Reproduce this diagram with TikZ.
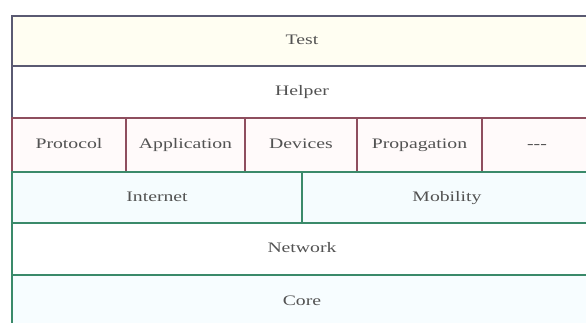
\documentclass[tikz,border=0pt]{standalone}
\usepackage{fontspec}
\newfontfamily\lblfont[FakeStretch=1.36]{Liberation Serif}
\usepackage{tikz}

\definecolor{topline}{HTML}{5A5A72}
\definecolor{midline}{HTML}{8E4E5E}
\definecolor{lowline}{HTML}{3A8A6A}

\begin{document}
\begin{tikzpicture}[x=1pt, y=-1pt,
  cell/.style={rectangle, draw, line width=1.6pt, inner sep=0pt,
    text height=10pt, text depth=3pt,
    font=\lblfont\fontsize{14.5}{17}\selectfont, text=black!68},
  upper/.style={cell, draw=topline},
  middle/.style={cell, draw=midline, fill=red!2, minimum height=54pt},
  lower/.style={cell, draw=lowline}]
  \useasboundingbox (0,0) rectangle (586,323);
  \clip (0,0) rectangle (586,323);

  % rows run past the right edge of the page
  \node [upper, fill=yellow!5, minimum width=580pt, minimum height=50pt] (test) at (302,41) {Test};
  \node [upper, fill=white, minimum width=580pt, minimum height=52pt] (helper) at (302,92) {Helper};

  \node [middle, minimum width=114pt] (protocol) at (69,145) {Protocol};
  \node [middle, minimum width=119pt] (application) at (185.5,145) {Application};
  \node [middle, minimum width=112pt] (devices) at (301,145) {Devices};
  \node [middle, minimum width=125pt] (propagation) at (419.5,145) {Propagation};
  \node [middle, minimum width=110pt] (more) at (537,145) {-{}-{}-};

  \node [lower, fill=cyan!4, minimum width=290pt, minimum height=51pt] (internet) at (157,197.5) {Internet};
  \node [lower, fill=cyan!4, minimum width=290pt, minimum height=51pt] (mobility) at (447,197.5) {Mobility};
  \node [lower, fill=white, minimum width=580pt, minimum height=52pt] (network) at (302,249) {Network};
  \node [lower, fill=cyan!3, minimum width=580pt, minimum height=54pt] (core) at (302,302) {Core};
\end{tikzpicture}
\end{document}
